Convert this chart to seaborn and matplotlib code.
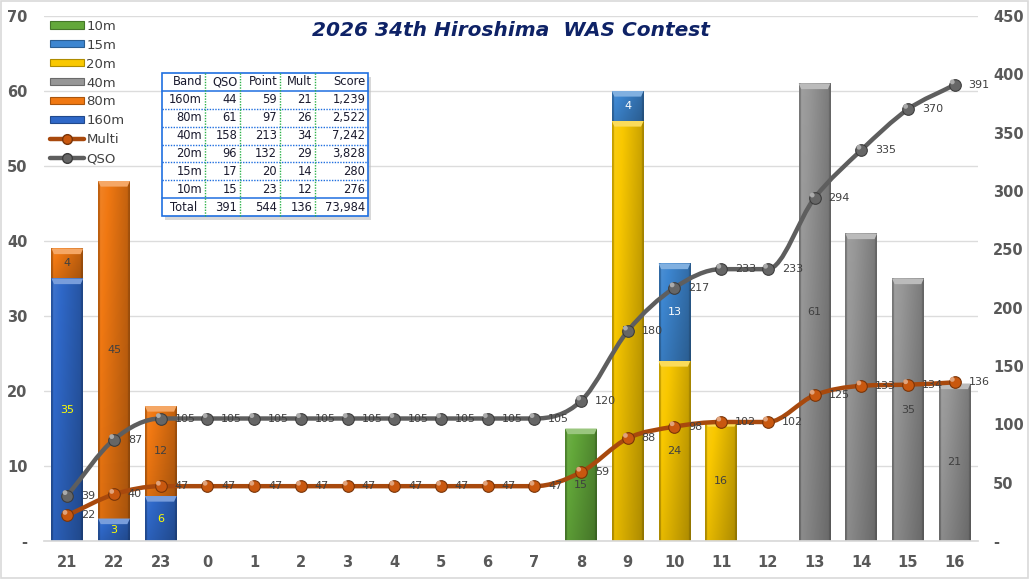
import numpy as np
import matplotlib
matplotlib.use("Agg")
import matplotlib.pyplot as plt
import matplotlib.colors as mcolors
from matplotlib.path import Path
from matplotlib.patches import PathPatch, Patch, Polygon, Rectangle
from matplotlib.lines import Line2D
import seaborn as sns

# ---- data -------------------------------------------------------------
hours = ["21", "22", "23", "0", "1", "2", "3", "4", "5", "6", "7",
         "8", "9", "10", "11", "12", "13", "14", "15", "16"]

band_160m = [35, 3, 6, 0, 0, 0, 0, 0, 0, 0, 0, 0, 0, 0, 0, 0, 0, 0, 0, 0]
band_80m = [4, 45, 12, 0, 0, 0, 0, 0, 0, 0, 0, 0, 0, 0, 0, 0, 0, 0, 0, 0]
band_40m = [0, 0, 0, 0, 0, 0, 0, 0, 0, 0, 0, 0, 0, 0, 0, 0, 61, 41, 35, 21]
band_20m = [0, 0, 0, 0, 0, 0, 0, 0, 0, 0, 0, 0, 56, 24, 16, 0, 0, 0, 0, 0]
band_15m = [0, 0, 0, 0, 0, 0, 0, 0, 0, 0, 0, 0, 4, 13, 0, 0, 0, 0, 0, 0]
band_10m = [0, 0, 0, 0, 0, 0, 0, 0, 0, 0, 0, 15, 0, 0, 0, 0, 0, 0, 0, 0]

qso_total = [39, 87, 105, 105, 105, 105, 105, 105, 105, 105, 105,
             120, 180, 217, 233, 233, 294, 335, 370, 391]
multi_total = [22, 40, 47, 47, 47, 47, 47, 47, 47, 47, 47,
               59, 88, 98, 102, 102, 125, 133, 134, 136]

table_header = ["Band", "QSO", "Point", "Mult", "Score"]
table_rows = [
    ["160m", "44", "59", "21", "1,239"],
    ["80m", "61", "97", "26", "2,522"],
    ["40m", "158", "213", "34", "7,242"],
    ["20m", "96", "132", "29", "3,828"],
    ["15m", "17", "20", "14", "280"],
    ["10m", "15", "23", "12", "276"],
    ["Total", "391", "544", "136", "73,984"],
]

title = "2026 34th Hiroshima  WAS Contest"

# ---- styling ----------------------------------------------------------
sns.set_theme(style="white")
plt.rcParams["font.family"] = ["DejaVu Sans"]

# stacking order bottom -> top: name, values, fill colour, label colour
stack = [
    ("160m", band_160m, "#2F68C8", "#FFFF00"),
    ("80m", band_80m, "#F07812", "#404040"),
    ("40m", band_40m, "#979797", "#404040"),
    ("20m", band_20m, "#F9C800", "#404040"),
    ("15m", band_15m, "#3D86D0", "#FFFFFF"),
    ("10m", band_10m, "#63A83A", "#404040"),
]
legend_order = ["10m", "15m", "20m", "40m", "80m", "160m"]

QSO_COLOR = "#5E5E5E"
MULTI_COLOR = "#A8490D"
MULTI_MARKER = "#C9580F"
TICK_COLOR = "#595959"
LABEL_COLOR = "#404040"

fig = plt.figure(figsize=(10.30, 5.79), dpi=100)
ax = fig.add_axes([0.0427, 0.0656, 0.9068, 0.9068])
ax2 = ax.twinx()

x = np.arange(len(hours))
bar_w = 0.68


def shade(color, f):
    r, g, b = mcolors.to_rgb(color)
    if f >= 1:
        return (r + (1 - r) * (f - 1), g + (1 - g) * (f - 1), b + (1 - b) * (f - 1))
    return (r * f, g * f, b * f)


def gradient_fill(axis, patch, color):
    """Paint a bevelled gradient inside a bar patch."""
    bx, by = patch.get_x(), patch.get_y()
    bw, bh = patch.get_width(), patch.get_height()
    if bh <= 0:
        return
    t = np.linspace(0, 1, 64)
    prof = 1.10 - 0.30 * t
    prof[t < 0.05] = 0.80
    prof[t > 0.95] = 0.68
    vert = np.linspace(1.0, 0.86, 32)[:, None]   # top row first
    base = np.array(mcolors.to_rgb(color))
    fac = prof[None, :] * vert
    img = np.where(fac[..., None] >= 1,
                   base + (1 - base) * (fac[..., None] - 1),
                   base * fac[..., None])
    img = np.clip(img, 0, 1)
    im = axis.imshow(img, extent=(bx, bx + bw, by, by + bh), aspect="auto",
                     interpolation="bilinear", origin="upper", zorder=2)
    im.set_clip_path(patch)
    # top bevel
    bev = min(0.75, bh * 0.5)
    d = bw * 0.08
    axis.add_patch(Polygon([(bx, by + bh), (bx + bw, by + bh),
                            (bx + bw - d, by + bh - bev), (bx + d, by + bh - bev)],
                           closed=True, facecolor=shade(color, 1.35),
                           edgecolor="none", zorder=3))


bottom = np.zeros(len(hours))
for name, vals, col, lab_col in stack:
    vals = np.asarray(vals, dtype=float)
    bars = ax.bar(x, vals, bar_w, bottom=bottom, color=col,
                  edgecolor=shade(col, 0.7), linewidth=0.0, zorder=2)
    for p, v, b in zip(bars.patches, vals, bottom):
        if v > 0:
            gradient_fill(ax, p, col)
            ax.text(p.get_x() + p.get_width() / 2, b + v / 2, f"{int(v)}",
                    ha="center", va="center", fontsize=8, color=lab_col, zorder=6)
        else:
            p.set_visible(False)
    bottom += vals

ax.set_xlim(-0.5, len(hours) - 0.5)
ax.set_ylim(0, 70)
ax.set_yticks(np.arange(0, 71, 10))
ax.set_yticklabels(["-"] + [str(v) for v in range(10, 71, 10)])
ax.set_xticks(x)
ax.set_xticklabels(hours)
ax.yaxis.grid(True, color="#DCDCDC", linewidth=1.0, zorder=0)
ax.set_axisbelow(True)

ax2.set_ylim(0, 450)
ax2.set_yticks(np.arange(0, 451, 50))
ax2.set_yticklabels(["-"] + [str(v) for v in range(50, 451, 50)])


def smooth_path(xs, ys):
    """Monotone cubic Bezier through the points (flat runs stay flat)."""
    xs = np.asarray(xs, dtype=float)
    ys = np.asarray(ys, dtype=float)
    n = len(xs)
    h = np.diff(xs)
    dk = np.diff(ys) / h
    m = np.zeros(n)
    m[0], m[-1] = dk[0], dk[-1]
    for i in range(1, n - 1):
        if dk[i - 1] * dk[i] > 0:
            m[i] = (dk[i - 1] + dk[i]) / 2
    for i in range(n - 1):
        if dk[i] == 0:
            m[i] = m[i + 1] = 0
        else:
            a, b = m[i] / dk[i], m[i + 1] / dk[i]
            s = a * a + b * b
            if s > 9:
                tau = 3 / np.sqrt(s)
                m[i], m[i + 1] = tau * a * dk[i], tau * b * dk[i]
    verts = [(xs[0], ys[0])]
    codes = [Path.MOVETO]
    for i in range(n - 1):
        verts += [(xs[i] + h[i] / 3, ys[i] + m[i] * h[i] / 3),
                  (xs[i + 1] - h[i] / 3, ys[i + 1] - m[i + 1] * h[i] / 3),
                  (xs[i + 1], ys[i + 1])]
        codes += [Path.CURVE4] * 3
    return Path(verts, codes)


for vals, lc, mc in [(qso_total, QSO_COLOR, "#666666"),
                     (multi_total, MULTI_COLOR, MULTI_MARKER)]:
    ax2.add_patch(PathPatch(smooth_path(x, vals), facecolor="none",
                            edgecolor=lc, linewidth=3.2, capstyle="round",
                            joinstyle="round", zorder=4))
    sns.scatterplot(x=x, y=vals, ax=ax2, s=70, color=mc, edgecolor=shade(mc, 0.6),
                    linewidth=0.8, zorder=5, legend=False)
    sns.scatterplot(x=x - 0.05, y=np.asarray(vals) + 2.5, ax=ax2, s=12,
                    color=shade(mc, 1.45), edgecolor="none", zorder=6, legend=False)
    for xi, v in zip(x, vals):
        ax2.annotate(f"{v}", (xi, v), xytext=(10, 0), textcoords="offset points",
                     ha="left", va="center", fontsize=8, color=LABEL_COLOR, zorder=7)

for a in (ax, ax2):
    for s in a.spines.values():
        s.set_visible(False)
    a.tick_params(length=0, labelsize=10.5, labelcolor=TICK_COLOR, pad=6)
    for lbl in a.get_yticklabels() + a.get_xticklabels():
        lbl.set_fontweight("bold")
ax.spines["bottom"].set_visible(True)
ax.spines["bottom"].set_color("#D9D9D9")
ax.tick_params(axis="y", pad=12)
ax2.tick_params(axis="y", pad=11)
ax.tick_params(axis="x", pad=10)

ax.set_zorder(1)
ax2.set_zorder(2)
ax2.patch.set_visible(False)

# title
ax.text(0.5, 0.973, title, transform=ax.transAxes, ha="center", va="center",
        fontsize=14.5, fontweight="bold", fontstyle="italic", color="#0E2266",
        zorder=10)

# legend
cols = {name: col for name, _, col, _ in stack}
handles = [Patch(facecolor=cols[n], edgecolor=shade(cols[n], 0.7), linewidth=0.8)
           for n in legend_order]
handles += [Line2D([0], [0], color=MULTI_COLOR, lw=3.2, marker="o",
                   markersize=7, markerfacecolor=MULTI_MARKER,
                   markeredgecolor=shade(MULTI_MARKER, 0.6)),
            Line2D([0], [0], color=QSO_COLOR, lw=3.2, marker="o",
                   markersize=7, markerfacecolor="#666666",
                   markeredgecolor="#3c3c3c")]
labels = legend_order + ["Multi", "QSO"]
leg = ax2.legend(handles, labels, loc="upper left", bbox_to_anchor=(-0.002, 1.008),
                 frameon=False, fontsize=9.5, handlelength=2.6, handleheight=0.45,
                 handletextpad=0.15, labelspacing=0.45, borderaxespad=0.2)
for t in leg.get_texts():
    t.set_color(LABEL_COLOR)

# summary table
tx0, tx1 = 0.1263, 0.3469
ty0, ty1 = 0.6190, 0.8914
col_w = np.array([43, 35, 40, 35, 53], dtype=float)
col_edges = tx0 + np.concatenate([[0], np.cumsum(col_w)]) / col_w.sum() * (tx1 - tx0)
n_rows = len(table_rows) + 1
row_h = (ty1 - ty0) / n_rows
tr = ax2.transAxes
BLUE = "#1F6FE0"
GREEN = "#2DB34A"

ax2.add_patch(Rectangle((tx0 + 0.003, ty0 - 0.008), tx1 - tx0, ty1 - ty0,
                        transform=tr, facecolor="#BFBFBF", edgecolor="none",
                        alpha=0.6, zorder=8))
ax2.add_patch(Rectangle((tx0, ty0), tx1 - tx0, ty1 - ty0, transform=tr,
                        facecolor="white", edgecolor=BLUE, linewidth=1.2, zorder=9))
for r in range(1, n_rows):
    yy = ty1 - r * row_h
    solid = r in (1, n_rows - 1)
    ax2.plot([tx0, tx1], [yy, yy], transform=tr, color=BLUE,
             linewidth=1.1 if solid else 1.0, linestyle="-" if solid else (0, (1, 1)),
             zorder=10)
for c in range(1, len(col_w)):
    xx = col_edges[c]
    ax2.plot([xx, xx], [ty0, ty1], transform=tr, color=GREEN, linewidth=1.0,
             linestyle=(0, (1, 1)), zorder=10)

for r, row in enumerate([table_header] + table_rows):
    yc = ty1 - (r + 0.5) * row_h
    for c, val in enumerate(row):
        if r == n_rows - 1 and c == 0:
            ax2.text((col_edges[0] + col_edges[1]) / 2, yc, val, transform=tr,
                     ha="center", va="center", fontsize=8.3, color="#1A1A2E", zorder=11)
        else:
            ax2.text(col_edges[c + 1] - 0.003, yc, val, transform=tr, ha="right",
                     va="center", fontsize=8.3, color="#1A1A2E", zorder=11)

# chart border
fig.patches.append(Rectangle((0.001, 0.002), 0.997, 0.996, transform=fig.transFigure,
                             facecolor="none", edgecolor="#D9D9D9", linewidth=1.2))

fig.savefig("out.png", dpi=100)
